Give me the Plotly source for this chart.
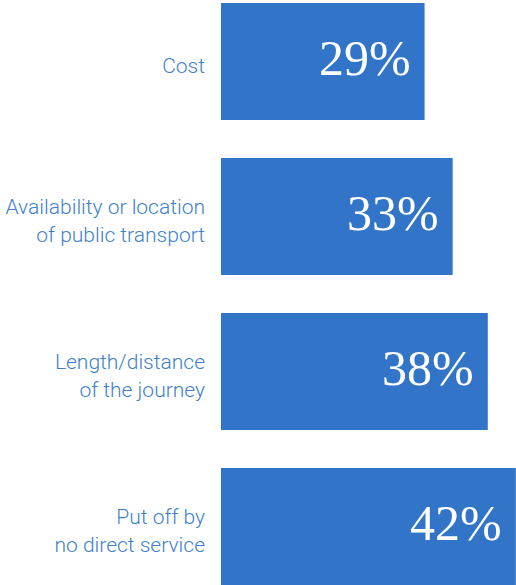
import plotly.graph_objects as go

categories = ["Cost", "Availability or location<br>of public transport", "Length/distance<br>of the journey", "Put off by<br>no direct service"]
values = [29, 33, 38, 42]
labels = ["29%", "33%", "38%", "42%"]

bar_color = "#3275C8"
label_color = "#3E7FCC"

fig = go.Figure()
fig.add_trace(go.Bar(
    y=categories, x=values, orientation="h",
    marker=dict(color=bar_color, line=dict(width=0)),
    hoverinfo="skip",
))

for c, v, t in zip(categories, values, labels):
    fig.add_annotation(x=v, y=c, text=t, showarrow=False, xanchor="right", xshift=-12, yshift=4,
                       font=dict(family="Liberation Serif", size=50, color="white"))

fig.update_layout(
    width=516, height=585,
    margin=dict(l=221, r=0, t=0, b=0),
    paper_bgcolor="white", plot_bgcolor="white",
    bargap=0.245,
    showlegend=False,
    xaxis=dict(range=[0, 42.02], visible=False, fixedrange=True),
    yaxis=dict(range=[3.377, -0.397], showgrid=False, zeroline=False, showline=False,
               ticks="", ticklen=0, ticklabelstandoff=15, ticklabelshift=-4,
               tickfont=dict(family="Roboto", size=21, color=label_color, weight=300)),
)

fig.write_html("out.html")
